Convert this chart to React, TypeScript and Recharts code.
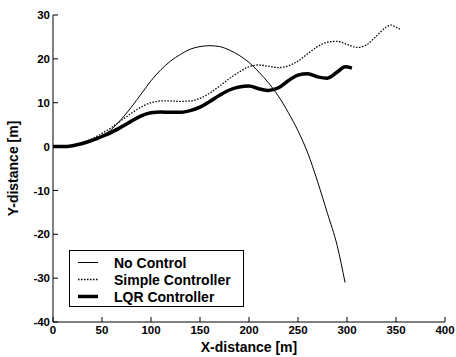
import { LineChart, Line, XAxis, YAxis, Legend, Label } from 'recharts'

const noControlX = [0, 10, 20, 30, 40, 50, 60, 70, 80, 90, 100, 110, 120, 130, 140, 150, 160, 170, 180, 190, 200, 210, 220, 230, 240, 250, 260, 270, 280, 290, 298]
const noControlY = [0, 0, 0.2, 0.6, 1.3, 2.3, 4, 6.3, 9, 12, 15, 17.5, 19.5, 21, 22.2, 22.8, 23, 22.8, 22, 20.8, 19.2, 17, 14.5, 11.5, 7.8, 3.6, -1.5, -8, -15.2, -22.6, -31]

const simpleX = [0, 10, 20, 30, 40, 50, 60, 70, 80, 90, 100, 110, 120, 130, 140, 150, 160, 170, 180, 190, 200, 210, 220, 230, 240, 250, 260, 270, 280, 290, 300, 310, 320, 330, 340, 345, 350, 354]
const simpleY = [0, 0, 0.3, 0.9, 1.8, 3, 4.4, 6, 7.6, 9, 10, 10.4, 10.4, 10.3, 10.4, 11, 12.2, 13.8, 15.5, 17, 18.2, 18.6, 18.3, 18, 18.4, 19.5, 21.2, 22.8, 23.8, 24, 23.3, 22.6, 23.2, 25.2, 27.2, 27.7, 27.2, 26.8]

const lqrX = [0, 10, 20, 30, 40, 50, 60, 70, 80, 90, 100, 110, 120, 130, 140, 150, 160, 170, 180, 190, 200, 210, 220, 230, 240, 250, 260, 270, 280, 290, 298, 305]
const lqrY = [0, 0, 0.2, 0.7, 1.4, 2.3, 3.3, 4.5, 5.8, 7, 7.7, 7.9, 7.8, 7.8, 8.2, 9, 10.3, 11.7, 12.9, 13.6, 13.8, 13.2, 12.8, 13.4, 15, 16.3, 16.6, 15.9, 15.6, 17, 18.2, 17.9]

const xTicks = [0, 50, 100, 150, 200, 250, 300, 350, 400]
const yTicks = [-40, -30, -20, -10, 0, 10, 20, 30]

const noControl = noControlX.map((x, i) => ({ x, y: noControlY[i] }))
const simple = simpleX.map((x, i) => ({ x, y: simpleY[i] }))
const lqr = lqrX.map((x, i) => ({ x, y: lqrY[i] }))

const font = '"Liberation Sans", Arial, sans-serif'
const tickStyle = { fontFamily: font, fontSize: 11.5, fontWeight: 700, fill: '#000' }

const legendRows = [
  { name: 'No Control', width: 1, dash: undefined },
  { name: 'Simple Controller', width: 1.3, dash: '1.5 1.5' },
  { name: 'LQR Controller', width: 3.5, dash: undefined },
]

function LegendBox() {
  return (
    <div
      style={{
        border: '1px solid #000',
        background: '#fff',
        boxSizing: 'border-box',
        width: 175,
        height: 57,
        paddingTop: 3,
        fontFamily: font,
        fontWeight: 700,
        fontSize: 14,
        color: '#000',
      }}
    >
      {legendRows.map((r) => (
        <div key={r.name} style={{ height: 17, display: 'flex', alignItems: 'center' }}>
          <svg width={44} height={17} style={{ flex: 'none' }}>
            <line x1={8} x2={28} y1={8.5} y2={8.5} stroke="#000" strokeWidth={r.width} strokeDasharray={r.dash} />
          </svg>
          <span style={{ whiteSpace: 'nowrap' }}>{r.name}</span>
        </div>
      ))}
    </div>
  )
}

export default function App() {
  return (
    <div style={{ position: 'absolute', left: 0, top: 0, background: '#fff' }}>
      <LineChart width={456} height={357} data={noControl} margin={{ top: 15, right: 11, left: 0, bottom: 0 }}>
        <XAxis
          xAxisId="b"
          dataKey="x"
          type="number"
          domain={[0, 400]}
          ticks={xTicks}
          interval={0}
          height={35}
          tickSize={-5}
          tickMargin={9}
          stroke="#000"
          tick={tickStyle}
          allowDataOverflow
        >
          <Label
            value="X-distance [m]"
            position="insideBottom"
            offset={5}
            style={{ fontFamily: font, fontSize: 14, fontWeight: 700, fill: '#000' }}
          />
        </XAxis>
        <XAxis
          xAxisId="t"
          orientation="top"
          dataKey="x"
          type="number"
          domain={[0, 400]}
          ticks={xTicks}
          interval={0}
          height={0}
          tickSize={-5}
          tick={false}
          stroke="#000"
          allowDataOverflow
        />
        <YAxis
          yAxisId="l"
          type="number"
          domain={[-40, 30]}
          ticks={yTicks}
          interval={0}
          width={53}
          tickSize={-5}
          tickMargin={8}
          stroke="#000"
          tick={tickStyle}
          allowDataOverflow
        >
          <Label
            content={({ viewBox }: any) => {
              const cy = viewBox.y + viewBox.height / 2
              return (
                <text
                  x={13}
                  y={cy}
                  transform={`rotate(-90 13 ${cy})`}
                  textAnchor="middle"
                  dominantBaseline="central"
                  style={{ fontFamily: font, fontSize: 14, fontWeight: 700, fill: '#000' }}
                >
                  Y-distance [m]
                </text>
              )
            }}
          />
        </YAxis>
        <YAxis
          yAxisId="r"
          orientation="right"
          type="number"
          domain={[-40, 30]}
          ticks={yTicks}
          interval={0}
          width={0}
          tickSize={-5}
          tick={false}
          stroke="#000"
          allowDataOverflow
        />
        <Line xAxisId="b" yAxisId="l" data={noControl} dataKey="y" name="No Control" type="monotone" stroke="#000" strokeWidth={1} dot={false} isAnimationActive={false} />
        <Line xAxisId="b" yAxisId="l" data={simple} dataKey="y" name="Simple Controller" type="monotone" stroke="#000" strokeWidth={1.3} strokeDasharray="1.5 1.5" dot={false} isAnimationActive={false} />
        <Line xAxisId="b" yAxisId="l" data={lqr} dataKey="y" name="LQR Controller" type="monotone" stroke="#000" strokeWidth={3.5} dot={false} isAnimationActive={false} />
        <Legend
          layout="vertical"
          align="center"
          verticalAlign="middle"
          content={() => <LegendBox />}
          wrapperStyle={{ left: 69, top: 250, width: 175, height: 57 }}
        />
      </LineChart>
    </div>
  )
}
